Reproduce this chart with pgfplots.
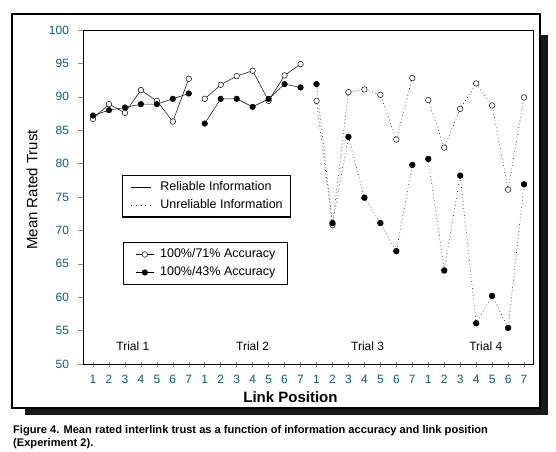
\documentclass[border=0pt]{standalone}
\usepackage{pgfplots}
\usepackage{pgfplotstable}
\usepackage{fontspec}
\setmainfont{Liberation Sans}
\pgfplotsset{compat=1.18}

\definecolor{tickteal}{RGB}{0,100,120}

% one table per trial: link position, 100%/71% (open), 100%/43% (filled)
\pgfplotstableread{
x  open  filled
1  86.7  87.2
2  88.9  88.0
3  87.6  88.4
4  91.0  88.9
5  89.4  88.9
6  86.3  89.7
7  92.7  90.5
}\trialone
\pgfplotstableread{
x  open  filled
8  89.7  86.0
9  91.8  89.7
10 93.1  89.7
11 93.9  88.5
12 89.4  89.7
13 93.2  91.9
14 94.9  91.4
}\trialtwo
\pgfplotstableread{
x  open  filled
15 89.4  91.9
16 70.8  71.1
17 90.7  84.0
18 91.1  74.9
19 90.3  71.1
20 83.6  66.9
21 92.8  79.8
}\trialthree
\pgfplotstableread{
x  open  filled
22 89.5  80.7
23 82.4  64.0
24 88.2  78.2
25 92.0  56.1
26 88.7  60.2
27 76.1  55.4
28 89.9  76.9
}\trialfour

\pgfplotsset{
  trustaxis/.style={
    at={(83pt,-364pt)}, anchor=south west,
    width=450pt, height=334pt, scale only axis,
    xmin=0.375, xmax=28.56, ymin=50, ymax=100,
  },
  openmark/.style={mark=*, mark size=2.8pt, mark options={solid, fill=white, draw=black, line width=0.5pt}},
  fullmark/.style={mark=*, mark size=2.8pt, mark options={solid, fill=black, draw=black}},
  reliable/.style={black, line width=0.5pt},
  unreliable/.style={black!85, line width=0.7pt, dash pattern=on 0.7pt off 2.8pt},
  boxlegend/.style={
    legend style={draw=black, line width=1.2pt,
      font=\fontsize{12.5}{14}\selectfont, row sep=6.5pt, inner ysep=6pt,
      nodes={inner sep=0pt, text height=9pt, text depth=2.5pt}},
    legend cell align=left,
  },
}

\begin{document}
\begin{tikzpicture}[x=1pt,y=1pt]
\useasboundingbox (0,0) rectangle (556,-451);
% shadow and frame
\fill[black!90] (25,-35) rectangle (548,-415);
\filldraw[fill=white, draw=black, line width=1.2pt] (12,-14) rectangle (540,-408);

\begin{axis}[trustaxis,
  xtick={1,...,28},
  xticklabels={1,2,3,4,5,6,7,1,2,3,4,5,6,7,1,2,3,4,5,6,7,1,2,3,4,5,6,7},
  ytick={50,55,...,100},
  tick label style={font=\fontsize{12}{12}\selectfont, text=tickteal},
  /pgf/number format/assume math mode=true,
  tick align=center, major tick length=5pt,
  tick style={black!45, line width=0.5pt},
  y tick style={xshift=-2pt},
  xtick pos=bottom, ytick pos=left,
  yticklabel style={xshift=-8pt},
  xticklabel style={yshift=-5pt},
  axis line style={black, line width=0.6pt},
  xlabel={\bfseries Link Position},
  ylabel={Mean Rated Trust},
  every axis x label/.style={at={(axis description cs:0.461,-0.0988)}, anchor=center, font=\fontsize{15}{15}\selectfont},
  every axis y label/.style={at={(axis description cs:-0.1133,0.521)}, rotate=90, anchor=center, font=\fontsize{15}{15}\selectfont},
]
\addplot[reliable, openmark] table[x=x, y=open] {\trialone};
\addplot[reliable, fullmark] table[x=x, y=filled] {\trialone};
\addplot[reliable, openmark] table[x=x, y=open] {\trialtwo};
\addplot[reliable, fullmark] table[x=x, y=filled] {\trialtwo};
\addplot[unreliable, openmark] table[x=x, y=open] {\trialthree};
\addplot[unreliable, fullmark] table[x=x, y=filled] {\trialthree};
\addplot[unreliable, openmark] table[x=x, y=open] {\trialfour};
\addplot[unreliable, fullmark] table[x=x, y=filled] {\trialfour};

\node[font=\fontsize{12}{12}\selectfont] at (axis cs:3.5,52.7) {Trial 1};
\node[font=\fontsize{12}{12}\selectfont] at (axis cs:11,52.7) {Trial 2};
\node[font=\fontsize{12}{12}\selectfont] at (axis cs:18.2,52.7) {Trial 3};
\node[font=\fontsize{12}{12}\selectfont] at (axis cs:25.6,52.7) {Trial 4};
\end{axis}

% legend: line style
\begin{axis}[trustaxis, hide axis, boxlegend,
  legend style={at={(0.0867,0.566)}, anchor=north west, inner xsep=8pt},
  legend image code/.code={\draw[#1] (0pt,0pt) -- (20pt,0pt); \path (29pt,0pt);},
]
\addlegendimage{reliable}
\addlegendentry{Reliable Information}
\addlegendimage{unreliable, line width=0.8pt, dash pattern=on 0.8pt off 4pt}
\addlegendentry{Unreliable Information\hspace{2pt}}
\end{axis}

% legend: accuracy condition
\begin{axis}[trustaxis, hide axis, boxlegend,
  legend style={at={(0.0889,0.365)}, anchor=north west, inner xsep=12pt},
  legend image code/.code={\draw[mark repeat=2, mark phase=2, #1] plot coordinates {(0pt,0pt) (9pt,0pt) (18pt,0pt)}; \path (24pt,0pt);},
]
\addlegendimage{reliable, openmark}
\addlegendentry{100\%/71\% Accuracy\hspace{6pt}}
\addlegendimage{reliable, fullmark}
\addlegendentry{100\%/43\% Accuracy\hspace{6pt}}
\end{axis}

% caption
\node[anchor=base west, inner sep=0pt, font=\fontsize{11.1}{13}\selectfont\bfseries] at (13,-433.5)
  {Figure 4. Mean rated interlink trust as a function of information accuracy and link position};
\node[anchor=base west, inner sep=0pt, font=\fontsize{11.1}{13}\selectfont\bfseries] at (13,-446.5)
  {(Experiment 2).};
\end{tikzpicture}
\end{document}
